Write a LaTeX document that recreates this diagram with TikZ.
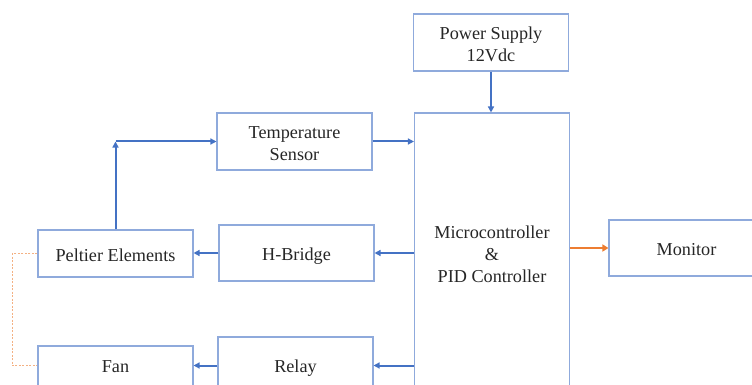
\documentclass[tikz,border=0pt]{standalone}
\usepackage{fontspec}
\setmainfont{Liberation Serif}
\usetikzlibrary{arrows.meta}
\definecolor{boxblue}{HTML}{8FAADC}
\definecolor{arrblue}{HTML}{4472C4}
\definecolor{arrorange}{HTML}{ED7D31}
\begin{document}
\begin{tikzpicture}[x=1pt,y=1pt,
  box/.style={draw=boxblue, line width=1.1pt, minimum width=155pt, inner sep=0pt},
  txt/.style={align=center, inner sep=0pt, font=\fontsize{18.2}{22}\selectfont, text=black!85},
  arr/.style={draw=arrblue, line width=2pt, -{Triangle[length=6pt,width=6pt]}},
  oarr/.style={draw=arrorange, line width=2.4pt, -{Triangle[length=6pt,width=7pt]}},
  dashline/.style={draw=arrorange!60, line width=0.5pt, dash pattern=on 2pt off 1.5pt}]
\useasboundingbox (0,0) rectangle (752,-385);
\clip (0,0) rectangle (752,-385);
\node[box, minimum height=57pt, label={[txt,yshift=-2pt]center:Power Supply\\12Vdc}] (ps) at (491,-42.5) {};
\node[box, minimum height=282pt, label={[txt]center:Microcontroller\\\&\\PID Controller}] (mc) at (492,-254) {};
\node[box, minimum height=57pt, label={[txt,yshift=-2pt]center:Temperature\\Sensor}] (ts) at (294.5,-141.5) {};
\node[box, minimum height=56pt, label={[txt,yshift=-3pt]center:H-Bridge}] (hb) at (296.5,-253) {};
\node[box, minimum height=57pt, label={[txt,yshift=-3pt]center:Relay}] (rl) at (295.5,-365.5) {};
\node[box, minimum height=47pt, label={[txt,yshift=-2pt]center:Peltier Elements}] (pe) at (115.5,-253.5) {};
\node[box, minimum height=47pt, label={[txt,yshift=3pt]center:Fan}] (fan) at (115.5,-369.5) {};
\node[box, minimum height=56pt, label={[txt,yshift=-2pt]center:Monitor}] (mo) at (686.5,-248) {};
\coordinate (corner) at (pe.north |- ts.west);
\draw[arr] (ps.south) -- (ps.south |- mc.north);
\draw[arr] (ts.east) -- (ts.east -| mc.west);
\draw[arr] (mc.west |- hb.east) -- (hb.east);
\draw[arr] (mc.west |- rl.east) -- (rl.east);
\draw[arr] (hb.west) -- (hb.west -| pe.east);
\draw[arr] (rl.west) -- (rl.west -| fan.east);
\draw[arr] (pe.north) -- (corner);
\draw[arr] (corner) -- (ts.west);
\draw[oarr] (mc.east |- mo.west) -- (mo.west);
\draw[dashline] (pe.west) -- ++(-25,0) |- ([yshift=4pt]fan.west);
\end{tikzpicture}
\end{document}
